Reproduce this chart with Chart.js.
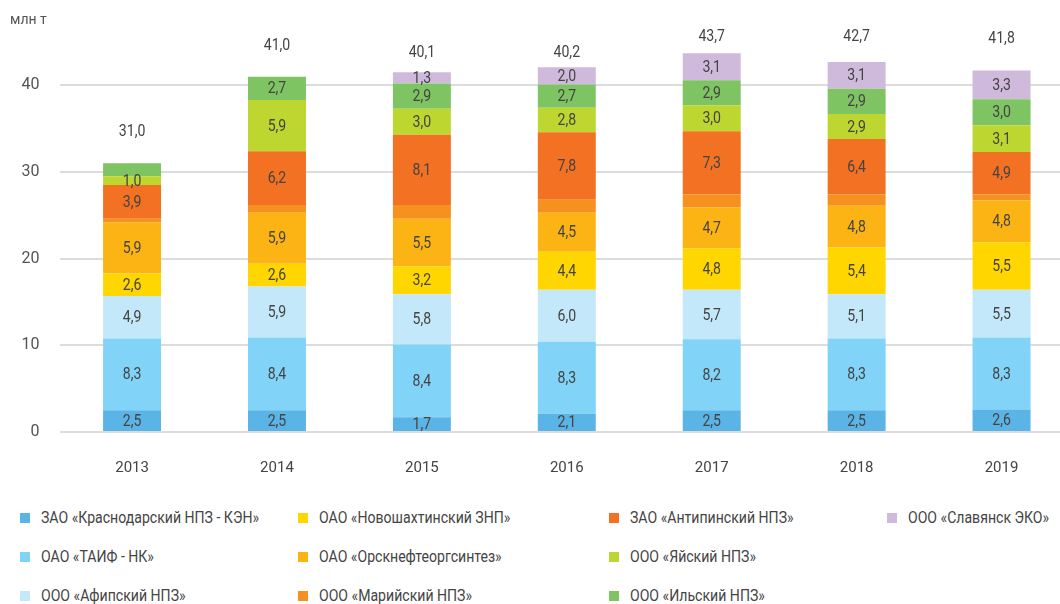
<!DOCTYPE html>
<html>
<head>
<meta charset="utf-8">
<script src="https://cdn.jsdelivr.net/npm/chart.js@4.4.1/dist/chart.umd.min.js"></script>
<style>
  body { margin: 0; overflow: hidden; background: #fff; font-family: Roboto, sans-serif; }
  #wrap { position: relative; width: 1074px; height: 490px; }
  #unit { position: absolute; left: 10px; top: 11px; font-size: 14px; color: #555; }
  #legend { position: relative; width: 1060px; height: 114px; }
  .item { position: absolute; font-size: 16px; color: #444; white-space: nowrap; line-height: 20px; }
  .item span { position: absolute; left: 0; top: 5px; width: 10px; height: 10px; }
  .item b { display: inline-block; font-weight: normal; transform: scaleX(0.88); transform-origin: 0 50%; }
</style>
</head>
<body>
<div id="wrap">
  <canvas id="myChart" width="1074" height="490"></canvas>
  <div id="unit">млн т</div>
</div>
<div id="legend"></div>
<script>
var years = ["2013", "2014", "2015", "2016", "2017", "2018", "2019"];
var totals = [31.0, 41.0, 40.1, 40.2, 43.7, 42.7, 41.8];
var yTicks = [0, 10, 20, 30, 40];

var krasnodar = [2.5, 2.5, 1.7, 2.1, 2.5, 2.5, 2.6];
var taif      = [8.3, 8.4, 8.4, 8.3, 8.2, 8.3, 8.3];
var afipsky   = [4.9, 5.9, 5.8, 6.0, 5.7, 5.1, 5.5];
var novoshakh = [2.6, 2.6, 3.2, 4.4, 4.8, 5.4, 5.5];
var orsk      = [5.9, 5.9, 5.5, 4.5, 4.7, 4.8, 4.8];
var mariysky  = [0.4, 0.9, 1.6, 1.5, 1.5, 1.3, 0.7];
var antipino  = [3.9, 6.2, 8.1, 7.8, 7.3, 6.4, 4.9];
var yaysky    = [1.0, 5.9, 3.0, 2.8, 3.0, 2.9, 3.1];
var ilsky     = [1.5, 2.7, 2.9, 2.7, 2.9, 2.9, 3.0];
var slavyansk = [null, null, 1.3, 2.0, 3.1, 3.1, 3.3];

var names = [
  "ЗАО «Краснодарский НПЗ - КЭН»", "ОАО «ТАИФ - НК»", "ООО «Афипский НПЗ»",
  "ОАО «Новошахтинский ЗНП»", "ОАО «Орскнефтеоргсинтез»", "ООО «Марийский НПЗ»",
  "ЗАО «Антипинский НПЗ»", "ООО «Яйский НПЗ»", "ООО «Ильский НПЗ»", "ООО «Славянск ЭКО»"
];
var series = [krasnodar, taif, afipsky, novoshakh, orsk, mariysky, antipino, yaysky, ilsky, slavyansk];
var colors = ["#5bb4e6", "#81d3f7", "#c3e8fa", "#ffd600", "#fcb415", "#f6901e", "#f37122", "#bed630", "#7fc462", "#cfbadb"];

// segments drawn without a number: [series, year]
var noLabel = [[8, 0]];
var noLabelSeries = [5];

var fontFam = "Roboto, sans-serif";

function fmt(v) { return v.toFixed(1).replace(".", ","); }

var datasets = series.map(function (s, i) {
  return { label: names[i], data: s, backgroundColor: colors[i], borderWidth: 0, stack: "a" };
});

// narrow text like the condensed face of the original
function narrowText(ctx, txt, x, y) {
  ctx.save();
  ctx.translate(x, y);
  ctx.scale(0.88, 1);
  ctx.fillText(txt, 0, 0);
  ctx.restore();
}

var valueLabels = {
  id: "valueLabels",
  afterDatasetsDraw: function (chart) {
    var ctx = chart.ctx;
    ctx.save();
    ctx.font = "16px " + fontFam;
    ctx.fillStyle = "#444";
    ctx.textAlign = "center";
    ctx.textBaseline = "middle";
    chart.data.datasets.forEach(function (ds, di) {
      if (noLabelSeries.indexOf(di) >= 0) return;
      var meta = chart.getDatasetMeta(di);
      meta.data.forEach(function (bar, j) {
        var v = ds.data[j];
        if (v == null) return;
        var skip = noLabel.some(function (p) { return p[0] === di && p[1] === j; });
        if (skip) return;
        narrowText(ctx, fmt(v), bar.x, (bar.y + bar.base) / 2 + 1);
      });
    });
    var ys = chart.scales.y;
    var meta0 = chart.getDatasetMeta(0);
    totals.forEach(function (t, j) {
      var y = Math.max(ys.getPixelForValue(t) - 31, 37);
      narrowText(ctx, fmt(t), meta0.data[j].x, y);
    });
    ctx.restore();
  }
};

new Chart("myChart", {
  type: "bar",
  data: { labels: years, datasets: datasets },
  plugins: [valueLabels],
  options: {
    responsive: false,
    animation: false,
    layout: { padding: { top: 42, right: 0, left: 0, bottom: 0 } },
    plugins: { legend: { display: false }, tooltip: { enabled: false } },
    datasets: { bar: { categoryPercentage: 1, barPercentage: 0.4 } },
    scales: {
      x: {
        stacked: true,
        grid: { display: false, drawTicks: false },
        border: { display: false },
        ticks: { color: "#444", font: { family: fontFam, size: 15 }, padding: 27 },
        afterFit: function (s) { s.height = 58; }
      },
      y: {
        stacked: true,
        min: 0,
        max: 45,
        grid: { color: "#dcdcdc", lineWidth: 2, drawTicks: false },
        border: { display: false },
        ticks: { color: "#555", font: { family: fontFam, size: 16 }, padding: 20, stepSize: 10 },
        afterBuildTicks: function (s) {
          s.ticks = yTicks.map(function (v) { return { value: v }; });
        },
        afterFit: function (s) { s.width = 59.6; }
      }
    }
  }
});

var legend = document.getElementById("legend");
var colLeft = [20, 298, 609, 887];
var rowTop = [18, 57, 96];
names.forEach(function (n, i) {
  var d = document.createElement("div");
  d.className = "item";
  d.style.left = colLeft[Math.floor(i / 3)] + "px";
  d.style.top = rowTop[i % 3] + "px";
  d.style.paddingLeft = "21px";
  d.innerHTML = '<span style="background:' + colors[i] + '"></span><b>' + n + '</b>';
  legend.appendChild(d);
});
</script>
</body>
</html>
